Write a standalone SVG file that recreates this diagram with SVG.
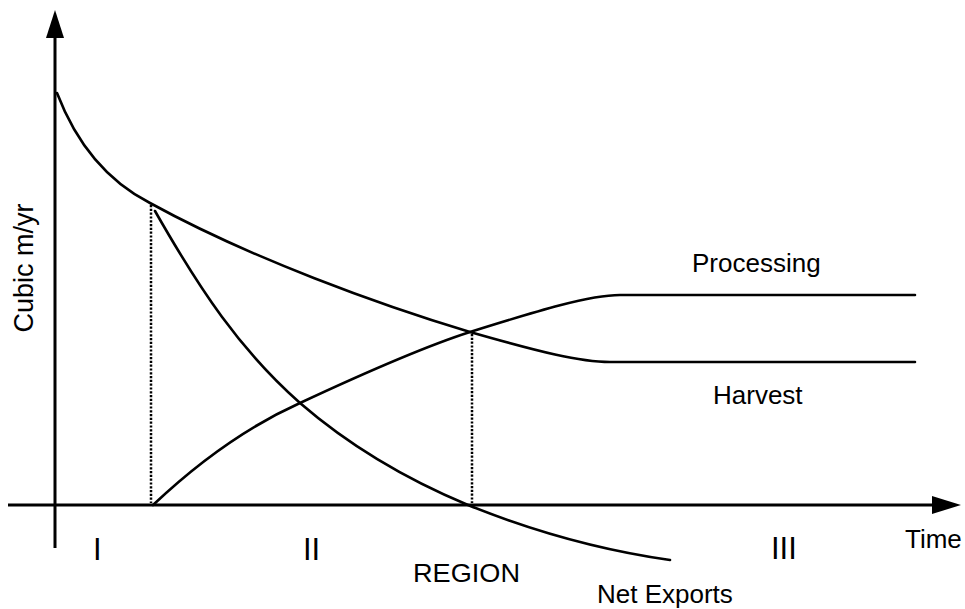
<svg xmlns="http://www.w3.org/2000/svg" width="965" height="609" viewBox="0 0 965 609">
<style>
.ax{stroke:#000;stroke-width:3;fill:none}
.cv{stroke:#000;stroke-width:2.6;fill:none;stroke-linecap:round}
.dot{stroke:#000;stroke-width:2.5;stroke-dasharray:2.2 1.6;fill:none}
text{font-family:"Liberation Sans",Arial,sans-serif;fill:#000}
.lb{font-size:26px}
.rn{font-size:31px}
</style>
<rect width="965" height="609" fill="#fff"/>
<g id="axes">
<line class="ax" x1="55" y1="36" x2="55" y2="548"/>
<polygon points="55,10 46,38 64,38" fill="#000"/>
<line class="ax" x1="8" y1="505" x2="934" y2="505"/>
<polygon points="961,505 932,496 932,514" fill="#000"/>
</g>
<g id="connectors">
<line class="dot" x1="151" y1="205" x2="151" y2="503"/>
<line class="dot" x1="472" y1="334" x2="472" y2="503"/>
</g>
<g id="harvest">
<path class="cv" d="M57,93 C75,140 105,180 150,203 C250,258 380,305 470,332 C540,352 580,362 610,362 L915,362"/>
</g>
<g id="processing">
<path class="cv" d="M153,505 C190,470 240,430 300,403 C360,375 420,348 470,332 C540,310 590,295 620,295 L915,295"/>
</g>
<g id="netexports">
<path class="cv" d="M155,211 C200,290 240,350 300,403 C360,455 420,485 468,505 C530,530 600,550 670,560"/>
</g>
<g id="labels">
<text class="lb" style="font-size:27px" transform="translate(33,268) rotate(-90)" text-anchor="middle">Cubic m/yr</text>
<text class="lb" x="692" y="272">Processing</text>
<text class="lb" x="713" y="404">Harvest</text>
<text class="lb" x="905" y="548">Time</text>
<text class="lb" x="413" y="582" textLength="107" lengthAdjust="spacingAndGlyphs">REGION</text>
<text class="lb" x="597" y="603">Net Exports</text>
<text class="rn" x="93" y="560">I</text>
<text class="rn" x="303" y="560">II</text>
<text class="rn" x="771" y="559">III</text>
</g>
</svg>
